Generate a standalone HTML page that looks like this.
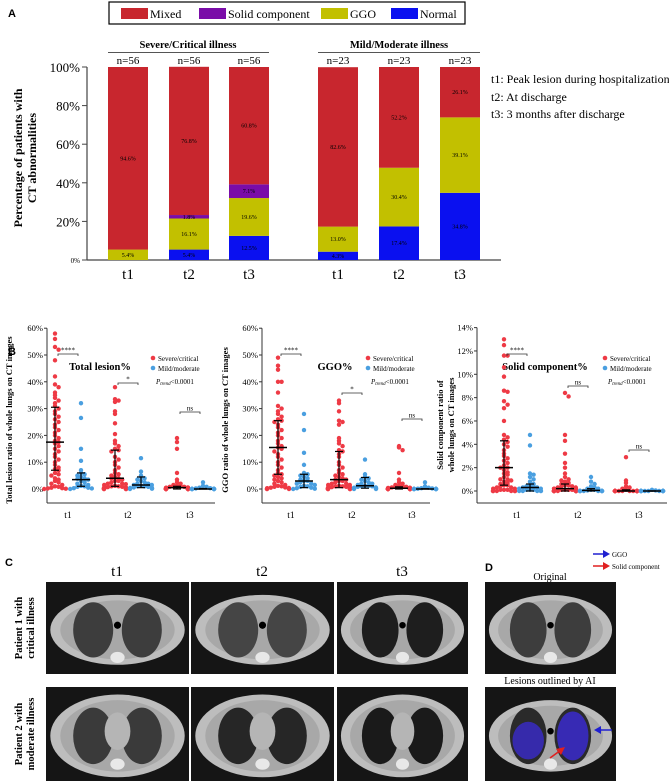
<!DOCTYPE html>
<html><head><meta charset="utf-8"><style>
html,body{margin:0;padding:0;background:#fff;width:669px;height:781px;overflow:hidden}
svg{display:block;font-family:"Liberation Serif",serif}
</style></head><body>
<svg id="fig" width="669" height="781" viewBox="0 0 669 781" xmlns="http://www.w3.org/2000/svg">
<text x="8" y="17" font-family="Liberation Sans" font-weight="bold" font-size="11">A</text>
<g>
<rect x="109" y="2" width="356" height="22" fill="#fff" stroke="#000" stroke-width="1.2"/>
<rect x="121" y="8" width="27" height="11" fill="#c8262e"/><text x="150" y="18" font-size="12">Mixed</text>
<rect x="199" y="8" width="27" height="11" fill="#7a0ca8"/><text x="228" y="18" font-size="12">Solid component</text>
<rect x="321" y="8" width="27" height="11" fill="#c2c000"/><text x="350" y="18" font-size="12">GGO</text>
<rect x="391" y="8" width="27" height="11" fill="#0a10f0"/><text x="420" y="18" font-size="12">Normal</text>
</g>
<text x="188" y="48" text-anchor="middle" font-weight="bold" font-size="10.5">Severe/Critical illness</text>
<line x1="108" y1="52.5" x2="269" y2="52.5" stroke="#555"/>
<text x="399" y="48" text-anchor="middle" font-weight="bold" font-size="10.5">Mild/Moderate illness</text>
<line x1="318" y1="52.5" x2="480" y2="52.5" stroke="#555"/>
<g font-size="12">
<text x="491" y="83">t1: Peak lesion during hospitalization</text>
<text x="491" y="101">t2: At discharge</text>
<text x="491" y="118">t3: 3 months after discharge</text>
</g>
<text transform="translate(22,158) rotate(-90)" text-anchor="middle" font-weight="bold" font-size="12"><tspan x="0" dy="0">Percentage of patients with</tspan><tspan x="0" dy="14">CT abnormalities</tspan></text>
<g id="barA"></g>
<text x="8" y="355" font-family="Liberation Sans" font-weight="bold" font-size="11">B</text>
<g id="scat"></g>
<text x="5" y="566" font-family="Liberation Sans" font-weight="bold" font-size="11">C</text>
<text x="485" y="571" font-family="Liberation Sans" font-weight="bold" font-size="11">D</text>
<g font-size="15" text-anchor="middle">
<text x="117" y="576">t1</text><text x="262" y="576">t2</text><text x="402" y="576">t3</text></g>
<text x="550" y="580" text-anchor="middle" font-size="10">Original</text>
<text x="550" y="684" text-anchor="middle" font-size="10">Lesions outlined by AI</text>
<g font-size="7">
<line x1="593" y1="554" x2="606" y2="554" stroke="#2020d0" stroke-width="1.5"/><polygon points="610,554 603,550 603,558" fill="#2020d0"/><text x="612" y="557">GGO</text>
<line x1="593" y1="566" x2="606" y2="566" stroke="#e02020" stroke-width="1.5"/><polygon points="610,566 603,562 603,570" fill="#e02020"/><text x="612" y="569">Solid component</text>
</g>
<text transform="translate(22,628) rotate(-90)" text-anchor="middle" font-weight="bold" font-size="10.5"><tspan x="0">Patient 1 with</tspan><tspan x="0" dy="12">critical illness</tspan></text>
<text transform="translate(22,734) rotate(-90)" text-anchor="middle" font-weight="bold" font-size="10.5"><tspan x="0">Patient 2 with</tspan><tspan x="0" dy="12">moderate illness</tspan></text>
<g id="ct"></g>
</svg>
<script>
const NS="http://www.w3.org/2000/svg";
function mk(p,t,a){const e=document.createElementNS(NS,t);for(const k in a)e.setAttribute(k,a[k]);p.appendChild(e);return e;}
// ---- Panel A data
const barCats=["t1","t2","t3","t1","t2","t3"];
const barN=["n=56","n=56","n=56","n=23","n=23","n=23"];
const normalVals=[0,5.4,12.5,4.3,17.4,34.8];
const ggoVals=[5.4,16.1,19.6,13.0,30.4,39.1];
const solidVals=[0,1.8,7.1,0,0,0];
const mixedVals=[94.6,76.8,60.8,82.6,52.2,26.1];
const yTicksA=[0,20,40,60,80,100];
const barX=[108,169,229,318,379,440];
const yA=v=>260-v*1.93;
const gA=document.getElementById('barA');
mk(gA,'line',{x1:87,y1:yA(100),x2:87,y2:260,stroke:'#444','stroke-width':1.2});
mk(gA,'line',{x1:87,y1:260,x2:501,y2:260,stroke:'#444','stroke-width':1.2});
yTicksA.forEach(t=>{mk(gA,'line',{x1:82,y1:yA(t),x2:87,y2:yA(t),stroke:'#444'});
 const tx=mk(gA,'text',{x:80,y:yA(t)+(t?5:3),'text-anchor':'end','font-size':t?13:7});tx.textContent=t+'%';});
barCats.forEach((c,i)=>{
 const x=barX[i],w=40;let base=0;
 const segs=[[normalVals[i],'#0a10f0','normal'],[ggoVals[i],'#c2c000','ggo'],[solidVals[i],'#7a0ca8','solid'],[mixedVals[i],'#c8262e','mixed']];
 segs.forEach(s=>{if(s[0]<=0)return;
  const r=mk(gA,'rect',{x:x,y:yA(base+s[0]),width:w,height:yA(base)-yA(base+s[0]),fill:s[1]});
  
  
  const lt=mk(gA,'text',{x:x+w/2,y:(yA(base)+yA(base+s[0]))/2+2,'text-anchor':'middle','font-size':6});lt.textContent=s[0].toFixed(1)+'%';
  base+=s[0];});
 const n=mk(gA,'text',{x:x+w/2,y:64,'text-anchor':'middle','font-size':11});n.textContent=barN[i];
 const t=mk(gA,'text',{x:x+w/2,y:279,'text-anchor':'middle','font-size':15});t.textContent=c;
});
// ---- Panel B data
const totalSev1=[58,56,53,52,48,42,39,38,36,35,34,33,32,31,30,29,28,27,26,25,24,23,22,21,20,19,18,17.5,17,16,15,14,13,12,11,10,9,8,7.5,7,6,5.5,5,4,3.5,3,2.5,2,1.5,1,0.8,0.5,0.3,0.2,0.1,0];
const totalMild1=[32,26.5,15,10.5,7,6,5.5,5,4.5,4,3.8,3.5,3,2.5,2,1.5,1.2,1,0.8,0.5,0.3,0.2,0];
const totalSev2=[38,33.5,33,32.5,29,28,24.5,20.5,18,17,16,15,14.5,14,12,11,10,9,8,7,6,5.5,5,4.5,4,4,3.5,3,3,2.5,2,2,1.8,1.5,1.2,1,1,0.8,0.7,0.6,0.5,0.5,0.4,0.3,0.3,0.2,0.2,0.1,0.1,0.1,0,0,0,0,0,0];
const totalMild2=[11.5,6.5,5,4.5,4,3.5,3,2.5,2,2,1.5,1.5,1.2,1,1,0.8,0.6,0.5,0.4,0.3,0.2,0.1,0];
const totalSev3=[19,17.5,15,6,3.5,2.5,2,1.5,1.2,1,1,0.8,0.8,0.6,0.5,0.5,0.4,0.4,0.3,0.3,0.2,0.2,0.2,0.1,0.1,0.1,0,0,0,0,0,0,0,0,0,0,0,0,0,0,0,0,0,0,0,0,0,0,0,0,0,0,0,0,0,0];
const totalMild3=[2.5,1.2,0.8,0.5,0.3,0.2,0.1,0,0,0,0,0,0,0,0,0,0,0,0,0,0,0,0];
const ggoSev1=[49,46,44.5,40,40,36,31,30,29,28,27,26,25.5,25,24,23,22,21,20,19,18,17,16,15.5,15,14,13,12,11,10,9,8,7,6,5.5,5,4.5,4,3.5,3,2.5,2,1.5,1.2,1,0.8,0.6,0.5,0.4,0.3,0.2,0.1,0.1,0,0,0];
const ggoMild1=[28,22,13.5,9,6,5.5,5,4.5,4,3.5,3,3,2.5,2,2,1.5,1.2,1,0.8,0.5,0.3,0.1,0];
const ggoSev2=[33,32,29,25.5,25,24,19,18,17,16,14.5,14,13,12,10,9,8,7,6,5.5,5,4.5,4,3.5,3.5,3,3,2.5,2,2,1.5,1.5,1.2,1,1,0.8,0.7,0.6,0.5,0.5,0.4,0.3,0.3,0.2,0.2,0.1,0.1,0.1,0,0,0,0,0,0,0,0];
const ggoMild2=[11,5.5,4.5,4,3.5,3,2.5,2,2,1.5,1.2,1.2,1,1,0.8,0.6,0.5,0.4,0.3,0.2,0.1,0,0];
const ggoSev3=[16,15.5,14.5,6,3.5,2.5,2,1.5,1.2,1,1,0.8,0.6,0.5,0.4,0.3,0.3,0.2,0.2,0.1,0.1,0,0,0,0,0,0,0,0,0,0,0,0,0,0,0,0,0,0,0,0,0,0,0,0,0,0,0,0,0,0,0,0,0,0,0];
const ggoMild3=[2.5,1,0.5,0.3,0.2,0.1,0,0,0,0,0,0,0,0,0,0,0,0,0,0,0,0,0];
const solSev1=[13,12.5,11.6,11.6,10.6,9.8,8.6,8.5,7.7,7.4,7.1,6,4.8,4.6,4.4,4.2,4,3.8,3.5,3.2,3,2.8,2.6,2.4,2.2,2,2,1.8,1.6,1.5,1.4,1.2,1,1,0.9,0.8,0.7,0.6,0.5,0.5,0.4,0.3,0.3,0.2,0.2,0.1,0.1,0.1,0,0,0,0,0,0,0,0];
const solMild1=[4.8,3.9,1.5,1.4,1.2,1,0.8,0.6,0.5,0.4,0.4,0.3,0.3,0.2,0.2,0.1,0.1,0.1,0,0,0,0,0];
const solSev2=[8.4,8.1,4.8,4.3,3.2,2.4,2,1.5,1.2,1,0.9,0.8,0.7,0.6,0.5,0.5,0.4,0.4,0.3,0.3,0.2,0.2,0.2,0.1,0.1,0.1,0.1,0,0,0,0,0,0,0,0,0,0,0,0,0,0,0,0,0,0,0,0,0,0,0,0,0,0,0,0,0];
const solMild2=[1.2,0.8,0.6,0.4,0.3,0.2,0.2,0.1,0.1,0.05,0,0,0,0,0,0,0,0,0,0,0,0,0];
const solSev3=[2.9,0.9,0.7,0.4,0.3,0.2,0.1,0,0,0,0,0,0,0,0,0,0,0,0,0,0,0,0,0,0,0,0,0,0,0,0,0,0,0,0,0,0,0,0,0,0,0,0,0,0,0,0,0,0,0,0,0,0,0,0,0];
const solMild3=[0.1,0.05,0,0,0,0,0,0,0,0,0,0,0,0,0,0,0,0,0,0,0,0,0];
// median, q1, q3 : sev t1, mild t1, sev t2, mild t2, sev t3, mild t3
const totalStats=[[17.5,7,30.5],[3.5,1,6],[4,1,14.5],[1.5,0.5,4.5],[0.5,0,1],[0,0,0.2]];
const ggoStats=[[15.5,5.5,25.5],[3,0.5,5.5],[3.5,0.5,14],[1.2,0.3,4.3],[0.3,0,0.8],[0,0,0.1]];
const solStats=[[2,0.5,4.3],[0.3,0,0.6],[0.2,0,0.6],[0.05,0,0.2],[0,0,0.1],[0,0,0]];
const totalTicks=[0,10,20,30,40,50,60], ggoTicks=[0,10,20,30,40,50,60], solTicks=[0,2,4,6,8,10,12,14];
const totalSig=["****","*","ns"], ggoSig=["****","*","ns"], solSig=["****","ns","ns"];
const gB=document.getElementById('scat');
function scatter(o){
 const g=mk(gB,'g',{});
 
 
 const y=v=>o.y0-v*o.k, top=y(o.max);
 mk(g,'line',{x1:o.ax,y1:top,x2:o.ax,y2:503,stroke:'#333'});
 mk(g,'line',{x1:o.ax,y1:503,x2:o.ax+o.w,y2:503,stroke:'#333'});
 o.ticks.forEach(t=>{mk(g,'line',{x1:o.ax-3,y1:y(t),x2:o.ax,y2:y(t),stroke:'#333'});
  const tx=mk(g,'text',{x:o.ax-4,y:y(t)+3,'text-anchor':'end','font-size':8.5});tx.textContent=t+'%';});
 const tt=mk(g,'text',{x:o.tx,y:370,'text-anchor':'middle','font-size':10.5,'font-weight':'bold'});tt.textContent=o.title;
 const yt=mk(g,'text',{transform:`translate(${o.ytx},${o.ytc}) rotate(-90)`,'text-anchor':'middle','font-size':8.5,'font-weight':'bold'});
 o.ytitle.forEach((s,i)=>{const ts=mk(yt,'tspan',{x:0,dy:i?11:0});ts.textContent=s;});
 const lx=o.ax+o.w-62;
 mk(g,'circle',{cx:lx,cy:358,r:2.3,fill:'#ee3a45'});const l1=mk(g,'text',{x:lx+5,y:361,'font-size':7});l1.textContent='Severe/critical';
 mk(g,'circle',{cx:lx,cy:368,r:2.3,fill:'#4a9fe0'});const l2=mk(g,'text',{x:lx+5,y:371,'font-size':7});l2.textContent='Mild/moderate';
 const l3=mk(g,'text',{x:lx+3,y:384,'font-size':7,'font-style':'italic'});l3.textContent='P';const l3b=mk(g,'tspan',{'font-size':5,dy:1});l3b.textContent='trend';const l3c=mk(g,'tspan',{dy:-1,'font-style':'normal'});l3c.textContent='<0.0001';l3.appendChild(l3b);l3.appendChild(l3c);
 ['t1','t2','t3'].forEach((c,j)=>{const cx=o.cx[j];
  const xt=mk(g,'text',{x:cx,y:518,'text-anchor':'middle','font-size':9.5});xt.textContent=c;
  const groups=[[o.data[2*j],'#ee3a45',cx-13,o.stats[2*j]],[o.data[2*j+1],'#4a9fe0',cx+13,o.stats[2*j+1]]];
  groups.forEach(([arr,col,gx,st])=>{
   const bins={};
   arr.forEach(v=>{const py=y(v);const b=Math.round(py/4.2);const n=bins[b]||0;bins[b]=n+1;
    const off=n===0?0:(n%2?1:-1)*Math.ceil(n/2)*3.6;
    mk(g,'circle',{cx:gx+Math.max(-11,Math.min(11,off)),cy:py,r:2.2,fill:col});
   });
   mk(g,'line',{x1:gx,y1:y(st[1]),x2:gx,y2:y(st[2]),stroke:'#000','stroke-width':1.2});
   mk(g,'line',{x1:gx-4,y1:y(st[1]),x2:gx+4,y2:y(st[1]),stroke:'#000','stroke-width':1.2});
   mk(g,'line',{x1:gx-4,y1:y(st[2]),x2:gx+4,y2:y(st[2]),stroke:'#000','stroke-width':1.2});
   mk(g,'line',{x1:gx-9,y1:y(st[0]),x2:gx+9,y2:y(st[0]),stroke:'#000','stroke-width':1.5});
  });
  const by=o.sigY[j];
  mk(g,'path',{d:`M${cx-10} ${by+2}V${by}H${cx+10}V${by+2}`,fill:'none',stroke:'#333','stroke-width':0.8});
  const st=mk(g,'text',{x:cx,y:by-1.5,'text-anchor':'middle','font-size':7});st.textContent=o.sig[j];
 });
}
scatter({name:'total-lesion-chart',ax:47,w:168,y0:489,k:2.68,max:60,ticks:totalTicks,cx:[68,128,190],title:'Total lesion%',tx:100,ytx:12,ytc:420,ytitle:['Total lesion ratio of whole lungs on CT images'],data:[totalSev1,totalMild1,totalSev2,totalMild2,totalSev3,totalMild3],stats:totalStats,sig:totalSig,sigY:[354,383,412]});
scatter({name:'ggo-chart',ax:262,w:168,y0:489,k:2.68,max:60,ticks:ggoTicks,cx:[291,352,412],title:'GGO%',tx:335,ytx:228,ytc:420,ytitle:['GGO ratio of whole lungs on CT images'],data:[ggoSev1,ggoMild1,ggoSev2,ggoMild2,ggoSev3,ggoMild3],stats:ggoStats,sig:ggoSig,sigY:[354,393,419]});
scatter({name:'solid-component-chart',ax:477,w:190,y0:491,k:11.67,max:14,ticks:solTicks,cx:[517,578,639],title:'Solid component%',tx:545,ytx:443,ytc:425,ytitle:['Solid component ratio of','whole lungs on CT images'],data:[solSev1,solMild1,solSev2,solMild2,solSev3,solMild3],stats:solStats,sig:solSig,sigY:[354,386,450]});
// ---- CT images
const gC=document.getElementById('ct');
function ct(x,y,w,h,name,lungFill,ai,wide){
 const g=mk(gC,'g',{});
 
 
 mk(g,'rect',{x:x,y:y,width:w,height:h,fill:'#151515'});
 const cx=x+w/2,cy=y+h*0.52;
 mk(g,'ellipse',{cx:cx,cy:cy,rx:w*0.47,ry:h*(wide?0.44:0.38),fill:'#bdbdbd'});
 mk(g,'ellipse',{cx:cx,cy:cy,rx:w*0.40,ry:h*(wide?0.38:0.32),fill:'#a8a8a8'});
 mk(g,'ellipse',{cx:cx-w*0.17,cy:cy,rx:w*0.14,ry:h*0.3,fill:lungFill});
 mk(g,'ellipse',{cx:cx+w*0.17,cy:cy,rx:w*0.14,ry:h*0.3,fill:lungFill});
 if(wide) mk(g,'ellipse',{cx:cx,cy:cy-h*0.05,rx:w*0.09,ry:h*0.2,fill:'#b5b5b5'});
 else mk(g,'circle',{cx:cx,cy:cy-h*0.05,r:w*0.025,fill:'#000'});
 mk(g,'ellipse',{cx:cx,cy:cy+h*0.3,rx:w*0.05,ry:h*0.06,fill:'#e8e8e8'});
 if(ai){mk(g,'ellipse',{cx:cx-w*0.17,cy:cy+h*0.05,rx:w*0.12,ry:h*0.2,fill:'#3a2acc',opacity:0.8});
  mk(g,'ellipse',{cx:cx+w*0.17,cy:cy,rx:w*0.12,ry:h*0.26,fill:'#3a2acc',opacity:0.85});}
}
ct(46,582,143,92,'ct-p1-t1','#3d3d3d');
ct(191,582,143,92,'ct-p1-t2','#454545');
ct(337,582,131,92,'ct-p1-t3','#1e1e1e');
ct(485,582,131,92,'ct-d-original','#3d3d3d');
ct(46,687,143,94,'ct-p2-t1','#3a3a3a',false,true);
ct(191,687,143,94,'ct-p2-t2','#262626',false,true);
ct(337,687,131,94,'ct-p2-t3','#1a1a1a',false,true);
ct(485,687,131,94,'ct-d-ai','#2a2a2a',true);
const ga=mk(gC,'g',{});


mk(ga,'line',{x1:612,y1:730,x2:598,y2:730,stroke:'#2020d0','stroke-width':1.5});mk(ga,'polygon',{points:'594,730 601,726 601,734',fill:'#2020d0'});
mk(ga,'line',{x1:550,y1:758,x2:561,y2:750,stroke:'#e02020','stroke-width':1.5});mk(ga,'polygon',{points:'565,747 556,749 561,755',fill:'#e02020'});
</script>
</body></html>
